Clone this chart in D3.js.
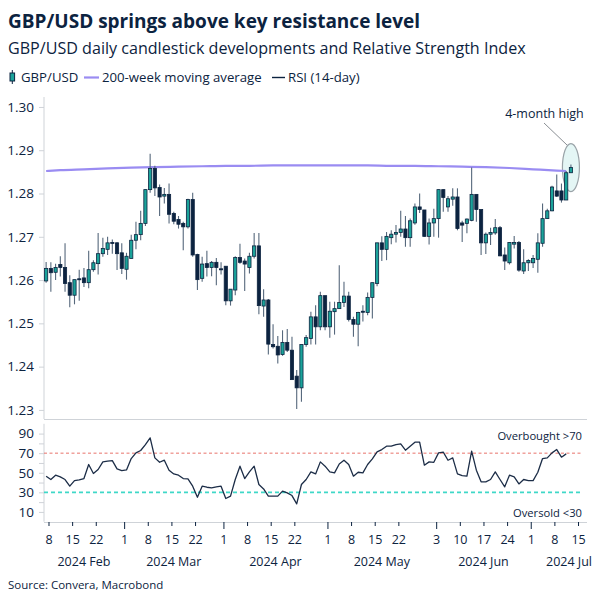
<!DOCTYPE html>
<html><head><meta charset="utf-8">
<script src="https://cdn.jsdelivr.net/npm/d3@7"></script>
<style>
body{margin:0;background:#fff;}
svg{display:block;font-family:'Open Sans','Noto Sans',sans-serif;}
</style></head><body>
<svg id="c" width="604" height="604"></svg>
<script>
// ---------- DATA ----------
const calendarStart = "2024-02-07";
const calendarEnd = "2024-07-31";
const opens = [
1.2598,1.2627,1.2618,1.2636,1.2629,1.2594,1.2565,1.2603,1.2605,1.2594,
1.2624,1.2638,1.2661,1.2671,1.2687,1.2686,1.2663,1.2625,1.2650,1.2692,
1.2705,1.2731,1.2809,1.2858,1.2814,1.2794,1.2798,1.2754,1.2740,1.2731,
1.2723,1.2786,1.2659,1.2604,1.2638,1.2629,1.2641,1.2626,1.2632,1.2552,
1.2577,1.2652,1.2644,1.2629,1.2655,1.2679,1.2540,1.2554,1.2451,1.2447,
1.2428,1.2456,1.2438,1.2378,1.2351,1.2451,1.2465,1.2515,1.2492,1.2564,
1.2492,1.2527,1.2534,1.2548,1.2563,1.2509,1.2498,1.2528,1.2525,1.2560,
1.2592,1.2686,1.2671,1.2698,1.2706,1.2710,1.2718,1.2698,1.2732,1.2769,
1.2762,1.2701,1.2732,1.2742,1.2809,1.2769,1.2787,1.2792,1.2732,1.2731,
1.2738,1.2798,1.2763,1.2686,1.2706,1.2709,1.2721,1.2658,1.2640,1.2683,
1.2687,1.2621,1.2640,1.2640,1.2648,1.2685,1.2742,1.2760,1.2806,1.2806,
1.2785,1.2848];
const highs = [
1.2642,1.2641,1.2638,1.2655,1.2685,1.2611,1.2601,1.2624,1.2628,1.2668,
1.2646,1.2709,1.2698,1.2700,1.2694,1.2688,1.2685,1.2663,1.2705,1.2735,
1.2760,1.2809,1.2892,1.2864,1.2821,1.2813,1.2823,1.2758,1.2748,1.2735,
1.2788,1.2802,1.2661,1.2654,1.2668,1.2644,1.2651,1.2641,1.2632,1.2579,
1.2655,1.2684,1.2650,1.2663,1.2709,1.2709,1.2579,1.2556,1.2498,1.2471,
1.2484,1.2487,1.2469,1.2392,1.2451,1.2473,1.2527,1.2542,1.2573,1.2564,
1.2550,1.2550,1.2634,1.2596,1.2573,1.2515,1.2527,1.2542,1.2571,1.2594,
1.2686,1.2701,1.2711,1.2715,1.2727,1.2760,1.2748,1.2742,1.2777,1.2800,
1.2762,1.2742,1.2765,1.2809,1.2809,1.2794,1.2812,1.2812,1.2737,1.2742,
1.2860,1.2798,1.2763,1.2710,1.2721,1.2741,1.2725,1.2675,1.2688,1.2702,
1.2690,1.2671,1.2648,1.2658,1.2708,1.2777,1.2765,1.2818,1.2844,1.2823,
1.2852,1.2867];
const lows = [
1.2594,1.2573,1.2600,1.2608,1.2573,1.2537,1.2544,1.2552,1.2584,1.2581,
1.2619,1.2613,1.2654,1.2658,1.2661,1.2623,1.2614,1.2601,1.2650,1.2671,
1.2692,1.2725,1.2802,1.2794,1.2748,1.2777,1.2731,1.2729,1.2719,1.2669,
1.2719,1.2654,1.2577,1.2596,1.2608,1.2609,1.2588,1.2613,1.2542,1.2541,
1.2565,1.2638,1.2575,1.2615,1.2650,1.2521,1.2515,1.2428,1.2442,1.2407,
1.2425,1.2434,1.2369,1.2302,1.2319,1.2446,1.2451,1.2451,1.2484,1.2484,
1.2467,1.2474,1.2533,1.2538,1.2504,1.2469,1.2447,1.2504,1.2519,1.2511,
1.2586,1.2644,1.2646,1.2683,1.2687,1.2700,1.2677,1.2677,1.2728,1.2755,
1.2700,1.2682,1.2700,1.2698,1.2758,1.2758,1.2772,1.2715,1.2688,1.2708,
1.2736,1.2735,1.2658,1.2660,1.2681,1.2705,1.2655,1.2623,1.2636,1.2673,
1.2619,1.2614,1.2621,1.2628,1.2617,1.2677,1.2741,1.2759,1.2792,1.2779,
1.2785,1.2848];
const closes = [
1.2627,1.2617,1.2629,1.2629,1.2592,1.2565,1.2601,1.2601,1.2594,1.2624,
1.2640,1.2661,1.2673,1.2686,1.2685,1.2661,1.2627,1.2655,1.2692,1.2705,
1.2731,1.2809,1.2858,1.2813,1.2792,1.2798,1.2752,1.2736,1.2729,1.2723,
1.2786,1.2658,1.2601,1.2637,1.2629,1.2641,1.2629,1.2625,1.2552,1.2579,
1.2652,1.2641,1.2637,1.2655,1.2679,1.2541,1.2554,1.2452,1.2446,1.2427,
1.2456,1.2438,1.2370,1.2351,1.2451,1.2467,1.2515,1.2492,1.2564,1.2492,
1.2528,1.2534,1.2548,1.2563,1.2509,1.2498,1.2525,1.2526,1.2560,1.2594,
1.2686,1.2671,1.2701,1.2706,1.2710,1.2718,1.2698,1.2737,1.2769,1.2763,
1.2701,1.2732,1.2742,1.2809,1.2791,1.2788,1.2792,1.2719,1.2727,1.2741,
1.2798,1.2763,1.2686,1.2706,1.2710,1.2721,1.2656,1.2644,1.2687,1.2687,
1.2623,1.2640,1.2645,1.2650,1.2686,1.2742,1.2760,1.2815,1.2794,1.2785,
1.2848,1.2860];
const rsiValues = [
46.5,43.1,47.5,45.8,43.1,36.3,42.0,42.7,44.1,58.4,
49.2,53.3,61.1,61.8,62.4,53.9,52.2,52.9,64.5,70.3,
72.7,78.8,85.6,65.2,60.7,62.8,52.6,48.8,47.5,44.1,
43.7,36.3,25.0,36.3,35.2,34.6,35.6,36.3,23.7,26.1,
43.1,56.7,44.1,50.9,56.7,38.0,33.5,26.1,26.1,26.1,
31.2,29.5,26.7,18.2,38.0,43.1,50.9,48.8,61.1,56.7,
50.9,49.9,59.0,62.8,58.4,46.5,50.5,49.9,58.4,64.1,
71.3,73.7,77.1,77.1,78.8,79.5,73.0,77.1,81.2,81.2,
57.7,61.1,60.7,70.3,71.0,62.8,65.2,48.8,47.1,46.5,
72.0,52.6,40.7,40.7,43.1,50.9,43.1,35.6,47.5,45.8,
38.6,43.1,42.0,42.0,50.5,64.5,65.2,70.3,73.7,65.9,
69.3];
const maDates = ["2024-02-07","2024-02-12","2024-02-19","2024-02-26","2024-03-04","2024-03-11","2024-03-18","2024-03-25","2024-04-01","2024-04-08","2024-04-15","2024-04-22","2024-04-29","2024-05-06","2024-05-13","2024-05-20","2024-05-27","2024-06-03","2024-06-10","2024-06-17","2024-06-24","2024-07-01","2024-07-08","2024-07-10"];
const maValues = [1.2852,1.2854,1.2856,1.2858,1.2860,1.2861,1.2862,1.2863,1.2864,1.2864,1.2865,1.2865,1.2865,1.2865,1.2865,1.2864,1.2864,1.2863,1.2862,1.2861,1.2859,1.2856,1.2853,1.2852];
const tickDates = ["2024-02-08","2024-02-15","2024-02-22","2024-03-01","2024-03-08","2024-03-15","2024-03-22","2024-04-01","2024-04-08","2024-04-15","2024-04-22","2024-05-01","2024-05-08","2024-05-15","2024-05-22","2024-06-03","2024-06-10","2024-06-17","2024-06-24","2024-07-01","2024-07-08","2024-07-15"];
const monthStarts = ["2024-03-01","2024-04-01","2024-05-01","2024-06-03","2024-07-01"];
const months = ["2024-02","2024-03","2024-04","2024-05","2024-06","2024-07"];
const monthLabels = ["2024 Feb","2024 Mar","2024 Apr","2024 May","2024 Jun","2024 Jul"];
const priceTicks = [1.23,1.24,1.25,1.26,1.27,1.28,1.29,1.30];
const rsiTicks = [10,20,30,40,50,60,70,80,90];
const rsiLabelTicks = [10,30,50,70,90];
const overbought = 70, oversold = 30;

// ---------- SETUP ----------
const fmtD = d3.utcFormat("%Y-%m-%d");
const days = d3.utcDay.range(new Date(calendarStart+"T00:00Z"), d3.utcDay.offset(new Date(calendarEnd+"T00:00Z"),1))
  .filter(d => d.getUTCDay()!==0 && d.getUTCDay()!==6);
const dayKeys = days.map(fmtD);
const idx = s => dayKeys.indexOf(s);

const navy = "#0c2340", teal = "#1ba39a", wick = "#56687c", grid = "#cfd3d8";
const svg = d3.select("#c");

const L = 44, R = 587;
const x = d3.scaleLinear().domain([-0.45, 114.4]).range([L, R]);
const y = d3.scaleLinear().domain([1.2279, 1.3023]).range([419, 97]);
const yr = d3.scaleLinear().domain([0, 100]).range([521.7, 423.8]);

// ---------- TITLES ----------
svg.append("text").attr("x",8).attr("y",28).attr("fill",navy)
  .attr("font-size",19).attr("font-weight",700).text("GBP/USD springs above key resistance level");
svg.append("text").attr("x",8).attr("y",54).attr("fill",navy)
  .attr("font-size",16.1).text("GBP/USD daily candlestick developments and Relative Strength Index");

// legend
const lg = svg.append("g");
lg.append("line").attr("x1",12.3).attr("x2",12.3).attr("y1",70).attr("y2",84).attr("stroke",navy).attr("stroke-width",1);
lg.append("rect").attr("x",10).attr("y",73).attr("width",4.6).attr("height",8).attr("fill",teal).attr("stroke",navy).attr("stroke-width",1);
lg.append("text").attr("x",21).attr("y",82).attr("font-size",13.2).attr("fill",navy).text("GBP/USD");
lg.append("line").attr("x1",84).attr("x2",99).attr("y1",77.5).attr("y2",77.5).attr("stroke","#9a8cf2").attr("stroke-width",2.2);
lg.append("text").attr("x",102).attr("y",82).attr("font-size",13.2).attr("fill",navy).text("200-week moving average");
lg.append("line").attr("x1",272).attr("x2",285).attr("y1",77.5).attr("y2",77.5).attr("stroke",navy).attr("stroke-width",1.4);
lg.append("text").attr("x",288).attr("y",82).attr("font-size",13.2).attr("fill",navy).text("RSI (14-day)");

// ---------- PRICE PANEL ----------
const yAxis = svg.append("g").attr("transform",`translate(${L},0)`)
  .call(d3.axisLeft(y).tickValues(priceTicks).tickFormat(d3.format(".2f")).tickSize(5).tickPadding(5));
yAxis.select(".domain").remove();
yAxis.selectAll(".tick line").attr("stroke",grid);
yAxis.selectAll(".tick text").attr("fill",navy).attr("font-size",13.5).attr("font-family","'Open Sans',sans-serif");
svg.append("line").attr("x1",L).attr("x2",L).attr("y1",97).attr("y2",419).attr("stroke",grid);
svg.append("line").attr("x1",L).attr("x2",R).attr("y1",419.5).attr("y2",419.5).attr("stroke",grid);

// annotation ellipse (behind candles)
const lastI = closes.length-1;
svg.append("ellipse").attr("cx",x(lastI)).attr("cy",y(closes[lastI])).attr("rx",8.5).attr("ry",24)
  .attr("fill","#e4f6f5").attr("stroke","#9aa3a8").attr("stroke-width",1.2);

// MA line
const maLine = d3.line().x(d=>x(idx(d[0]))).y(d=>y(d[1])).curve(d3.curveMonotoneX);
svg.append("path").datum(maDates.map((d,i)=>[d,maValues[i]])).attr("d",maLine)
  .attr("fill","none").attr("stroke","#9a8cf2").attr("stroke-width",2.2);

// candles
const candles = opens.map((o,i)=>({i,o,h:highs[i],l:lows[i],c:closes[i]}));
const cg = svg.append("g");
cg.selectAll("line.w").data(candles).join("line").attr("class","w")
  .attr("x1",d=>x(d.i)).attr("x2",d=>x(d.i)).attr("y1",d=>y(d.h)).attr("y2",d=>y(d.l))
  .attr("stroke",wick).attr("stroke-width",1.1);
const bw = 3.2;
cg.selectAll("rect").data(candles).join("rect")
  .attr("x",d=>x(d.i)-bw/2).attr("width",bw)
  .attr("y",d=>y(Math.max(d.o,d.c)))
  .attr("height",d=>Math.max(1,y(Math.min(d.o,d.c))-y(Math.max(d.o,d.c))))
  .attr("fill",d=>d.c>=d.o?teal:navy).attr("stroke",navy).attr("stroke-width",0.8);

// annotation text
svg.append("line").attr("x1",544).attr("y1",123).attr("x2",567).attr("y2",145).attr("stroke","#8a8f94").attr("stroke-width",1);
svg.append("text").attr("x",544.5).attr("y",117.5).attr("text-anchor","middle").attr("font-size",12.5).attr("fill",navy).text("4-month high");

// ---------- RSI PANEL ----------
const rAxis = svg.append("g").attr("transform",`translate(${L},0)`)
  .call(d3.axisLeft(yr).tickValues(rsiTicks).tickFormat(d=>rsiLabelTicks.includes(d)?d:"").tickSize(5).tickPadding(5));
rAxis.select(".domain").remove();
rAxis.selectAll(".tick line").attr("stroke",grid);
rAxis.selectAll(".tick text").attr("fill",navy).attr("font-size",13.5).attr("font-family","'Open Sans',sans-serif");
svg.append("line").attr("x1",L).attr("x2",L).attr("y1",423.8).attr("y2",521.7).attr("stroke",grid);

svg.append("line").attr("x1",L).attr("x2",582).attr("y1",yr(overbought)).attr("y2",yr(overbought))
  .attr("stroke","#e8736b").attr("stroke-width",1).attr("stroke-dasharray","3,2.5");
svg.append("line").attr("x1",L).attr("x2",582).attr("y1",yr(oversold)).attr("y2",yr(oversold))
  .attr("stroke","#3fd8c8").attr("stroke-width",1.8).attr("stroke-dasharray","4,3");
svg.append("text").attr("x",582).attr("y",439.5).attr("text-anchor","end").attr("font-size",11.2).attr("fill",navy).text("Overbought >70");
svg.append("text").attr("x",582).attr("y",516.5).attr("text-anchor","end").attr("font-size",11.2).attr("fill",navy).text("Oversold <30");

const rsiLine = d3.line().x((d,i)=>x(i)).y(d=>yr(d));
svg.append("path").datum(rsiValues).attr("d",rsiLine).attr("fill","none")
  .attr("stroke","#1c2d47").attr("stroke-width",1.3).attr("stroke-linejoin","round");

// ---------- X AXIS ----------
const xAxis = svg.append("g").attr("transform",`translate(0,522)`)
  .call(d3.axisBottom(x).tickValues(tickDates.map(d=>idx(d)-0.5))
    .tickFormat((d,i)=>String(+tickDates[i].slice(8))).tickSize(4).tickPadding(9));
xAxis.select(".domain").attr("stroke",grid).attr("d",`M${L},0.5H${R}`);
xAxis.selectAll(".tick line").attr("stroke",navy).attr("y2",(d,i)=>monthStarts.includes(tickDates[i])?7:4).attr("stroke-width",1);
xAxis.selectAll(".tick text").attr("fill",navy).attr("font-size",12.5).attr("font-family","'Open Sans',sans-serif");

// month labels
months.forEach((m,k)=>{
  const ids = dayKeys.map((d,i)=>d.startsWith(m)?i:-1).filter(i=>i>=0);
  const c = (x(ids[0]-0.5)+x(ids[ids.length-1]+0.5))/2;
  const t = svg.append("text").attr("y",566).attr("text-anchor","middle").attr("font-size",12.5).attr("fill",navy).text(monthLabels[k]);
  const w = t.node().getComputedTextLength();
  t.attr("x", Math.min(c, 592 - w/2));
});

svg.append("text").attr("x",8).attr("y",589).attr("font-size",11.5).attr("fill",navy).text("Source: Convera, Macrobond");
</script>
</body></html>
